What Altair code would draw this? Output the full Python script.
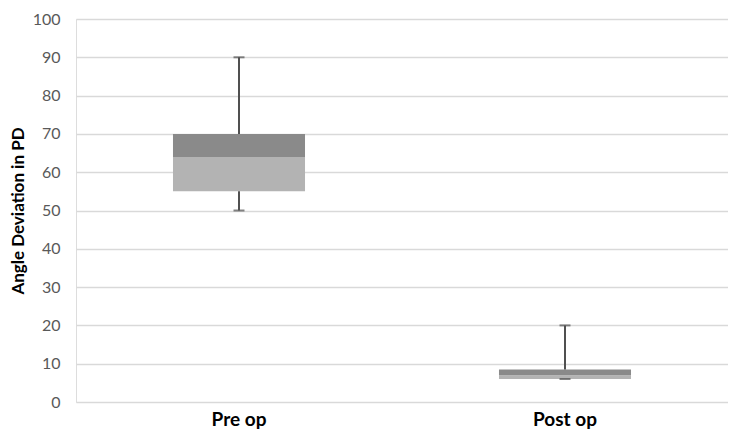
import altair as alt
import pandas as pd

categories = ["Pre op", "Post op"]
mins = [50, 6]
q1s = [55, 6]
medians = [64, 7]
q3s = [70, 8.5]
maxs = [90, 20]
y_ticks = [0, 10, 20, 30, 40, 50, 60, 70, 80, 90, 100]

df = pd.DataFrame({"cat": categories, "min": mins, "q1": q1s, "median": medians,
                   "q3": q3s, "max": maxs})

FONT = "Lato"

x = alt.X("cat:N", sort=categories, title=None,
          scale=alt.Scale(paddingInner=0.595, paddingOuter=0.2975),
          axis=alt.Axis(labelAngle=0, labelFont=FONT, labelFontSize=19,
                        labelFontWeight="bold", labelColor="#000000",
                        labelPadding=8, ticks=False, domain=False, grid=False))
yscale = alt.Scale(domain=[0, 100], nice=False)
yaxis = alt.Axis(values=y_ticks, title="Angle Deviation in PD",
                 titleFont=FONT, titleFontSize=17, titleFontWeight="bold",
                 titleColor="#000000", titlePadding=5,
                 labelFont=FONT, labelFontSize=16, labelColor="#595959",
                 labelPadding=16, labelOverlap=False, ticks=False, domain=False,
                 gridColor="#d9d9d9", gridWidth=1.5)


def Y(field):
    return alt.Y(f"{field}:Q", scale=yscale, axis=yaxis)


base = alt.Chart(df)

lower = base.mark_bar(color="#b3b3b3").encode(x=x, y=Y("q1"), y2="median:Q")
upper = base.mark_bar(color="#8a8a8a").encode(x=x, y=Y("median"), y2="q3:Q")
whisk_hi = base.mark_rule(color="#505050", strokeWidth=2).encode(
    x=x, y=Y("q3"), y2="max:Q")
whisk_lo = base.mark_rule(color="#505050", strokeWidth=2).encode(
    x=x, y=Y("min"), y2="q1:Q")
cap_hi = base.mark_tick(color="#505050", size=11, thickness=2).encode(
    x=x, y=Y("max"))
cap_lo = base.mark_tick(color="#505050", size=11, thickness=2).encode(
    x=x, y=Y("min"))

chart = alt.layer(lower, upper, whisk_hi, whisk_lo, cap_hi, cap_lo).properties(
    width=652, height=383,
    autosize=alt.AutoSizeParams(type="none"),
    padding={"left": 68, "top": 11, "right": 0, "bottom": 29},
).configure_view(stroke=None).configure(background="#ffffff")

chart.save("out.html", embed_options={"renderer": "svg", "actions": False})
